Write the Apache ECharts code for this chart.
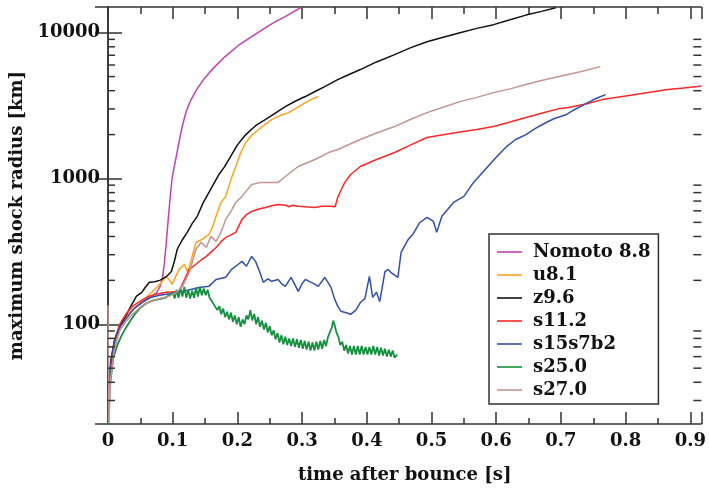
<!DOCTYPE html>
<html>
<head>
<meta charset="utf-8">
<script src="https://cdn.jsdelivr.net/npm/echarts@6/dist/echarts.min.js"></script>
<style>html,body{margin:0;padding:0;background:#fff;}#c{width:709px;height:489px;}</style>
</head>
<body>
<div id="c"></div>
<script>
const xMin = 0, xMax = 0.917;
const yMin = 20.7, yMax = 15000;
const xTicks = [0, 0.1, 0.2, 0.3, 0.4, 0.5, 0.6, 0.7, 0.8, 0.9];
const yLabels = [100, 1000, 10000];
const yMinorTicks = [30,40,50,60,70,80,90,200,300,400,500,600,700,800,900,2000,3000,4000,5000,6000,7000,8000,9000];
const seriesNames = ['Nomoto 8.8','u8.1','z9.6','s11.2','s15s7b2','s25.0','s27.0'];
const seriesColors = ['#c042b4','#ffa31a','#111111','#ff2626','#3150ae','#14903e','#c49490'];

const nomoto88 = [[0,24],[0.004,50],[0.01,75],[0.018,95],[0.028,112],[0.04,128],[0.054,142],[0.065,152],[0.075,165],[0.08,180],[0.084,205],[0.087,260],[0.09,360],[0.093,520],[0.0965,780],[0.099,1000],[0.102,1180],[0.106,1450],[0.110,1800],[0.115,2300],[0.121,2900],[0.128,3450],[0.136,4000],[0.148,4800],[0.161,5600],[0.18,6800],[0.202,8200],[0.222,9400],[0.243,10800],[0.26,12000],[0.274,12900],[0.29,14200],[0.299,14900]];
const u81 = [[0,25],[0.004,52],[0.01,76],[0.018,96],[0.028,112],[0.038,125],[0.05,140],[0.064,160],[0.075,178],[0.083,195],[0.09,213],[0.095,200],[0.0995,188],[0.105,215],[0.110,238],[0.118,258],[0.1225,230],[0.126,250],[0.130,292],[0.136,365],[0.1455,382],[0.156,413],[0.162,470],[0.167,550],[0.1745,685],[0.182,754],[0.19,985],[0.1975,1208],[0.205,1500],[0.213,1766],[0.223,2000],[0.233,2168],[0.243,2350],[0.253,2535],[0.266,2700],[0.279,2830],[0.292,3050],[0.305,3313],[0.315,3500],[0.325,3647]];
const z96 = [[0,25],[0.004,55],[0.01,78],[0.018,98],[0.028,115],[0.036,135],[0.044,156],[0.052,165],[0.058,180],[0.064,194],[0.072,196],[0.08,200],[0.09,212],[0.098,230],[0.103,275],[0.107,327],[0.115,380],[0.1225,427],[0.13,490],[0.138,550],[0.147,680],[0.156,802],[0.164,930],[0.1715,1065],[0.18,1200],[0.191,1450],[0.2,1700],[0.213,2000],[0.228,2300],[0.243,2535],[0.258,2800],[0.274,3112],[0.29,3400],[0.305,3647],[0.32,3950],[0.335,4270],[0.355,4762],[0.37,5100],[0.39,5585],[0.415,6300],[0.443,7070],[0.468,7900],[0.493,8670],[0.518,9300],[0.544,10000],[0.57,10700],[0.596,11350],[0.62,12200],[0.646,13200],[0.67,14000],[0.692,14800]];
const s112 = [[0,30],[0.004,52],[0.01,75],[0.018,100],[0.028,118],[0.038,133],[0.054,148],[0.064,156],[0.078,162],[0.09,166],[0.11,168],[0.117,197],[0.1255,238],[0.136,258],[0.145,278],[0.152,292],[0.16,315],[0.167,336],[0.175,370],[0.182,394],[0.19,410],[0.1975,427],[0.207,524],[0.215,570],[0.222,594],[0.232,615],[0.243,633],[0.253,650],[0.263,663],[0.275,655],[0.28,640],[0.285,655],[0.294,646],[0.305,640],[0.32,633],[0.33,645],[0.3445,646],[0.351,640],[0.355,741],[0.36,830],[0.366,940],[0.375,1065],[0.39,1208],[0.415,1350],[0.443,1507],[0.468,1700],[0.493,1910],[0.52,2000],[0.544,2085],[0.57,2170],[0.596,2270],[0.62,2430],[0.646,2620],[0.67,2800],[0.697,3013],[0.712,3063],[0.74,3250],[0.764,3475],[0.79,3620],[0.815,3760],[0.84,3920],[0.865,4074],[0.89,4180],[0.911,4270],[0.917,4300]];
const s15s7b2 = [[0,20],[0.002,40],[0.006,62],[0.012,82],[0.02,98],[0.03,112],[0.04,128],[0.054,143],[0.064,152],[0.08,158],[0.095,162],[0.12,170],[0.141,179],[0.156,182],[0.167,203],[0.182,210],[0.191,238],[0.2,255],[0.207,270],[0.214,250],[0.222,292],[0.228,270],[0.233,238],[0.24,194],[0.247,205],[0.253,197],[0.263,203],[0.268,190],[0.274,182],[0.283,210],[0.288,190],[0.294,168],[0.3,190],[0.305,203],[0.314,194],[0.32,188],[0.325,182],[0.335,210],[0.3445,180],[0.35,150],[0.355,133],[0.36,123],[0.368,120],[0.375,117],[0.383,125],[0.39,141],[0.397,150],[0.404,213],[0.409,153],[0.415,166],[0.42,143],[0.428,230],[0.433,238],[0.437,227],[0.448,210],[0.453,311],[0.464,382],[0.472,420],[0.482,499],[0.493,541],[0.503,507],[0.508,427],[0.516,550],[0.534,685],[0.55,754],[0.565,940],[0.585,1180],[0.6,1400],[0.616,1656],[0.63,1850],[0.646,2000],[0.66,2200],[0.677,2421],[0.69,2580],[0.7075,2734],[0.72,2950],[0.738,3250],[0.755,3550],[0.769,3760]];
const s250 = [[0,20],[0.003,38],[0.008,58],[0.014,71],[0.02,82],[0.026,92],[0.034,105],[0.042,118],[0.05,130],[0.06,140],[0.07,146],[0.08,149],[0.09,153],
[0.100,165],[0.103,150],[0.106,172],[0.109,152],[0.112,178],[0.115,155],[0.118,180],[0.121,152],[0.124,172],[0.127,150],[0.130,170],[0.133,152],[0.136,178],[0.139,155],[0.142,180],[0.145,158],[0.148,176],[0.151,158],[0.154,172],[0.157,152],[0.160,152],[0.163,138],[0.166,142],[0.169,125],[0.172,133],[0.175,117],[0.178,128],[0.181,112],[0.184,122],[0.187,108],[0.190,120],[0.193,104],[0.196,115],[0.199,100],[0.202,112],[0.205,96],[0.208,108],[0.211,100],[0.214,115],[0.217,108],[0.220,125],[0.223,106],[0.226,118],[0.229,100],[0.232,112],[0.235,96],[0.238,106],[0.241,92],[0.244,102],[0.247,88],[0.250,97],[0.253,84],[0.256,91],[0.259,79],[0.262,87],[0.265,75],[0.268,84],[0.271,73],[0.274,82],[0.277,72],[0.280,80],[0.283,71],[0.286,80],[0.289,70],[0.292,79],[0.295,69],[0.298,78],[0.301,68],[0.304,77],[0.307,67],[0.310,76],[0.313,66],[0.316,75],[0.319,66],[0.322,76],[0.325,67],[0.328,77],[0.331,68],[0.334,78],[0.337,71],[0.340,82],[0.343,80],[0.346,95],[0.348,106],[0.350,100],[0.353,88],[0.356,82],[0.359,72],[0.362,76],[0.365,66],[0.368,72],[0.371,63],[0.374,71],[0.377,62],[0.380,71],[0.383,62],[0.386,71],[0.389,62],[0.392,71],[0.395,62],[0.398,70],[0.401,62],[0.404,70],[0.407,62],[0.410,71],[0.413,62],[0.416,70],[0.419,61],[0.422,69],[0.425,61],[0.428,68],[0.431,60],[0.434,67],[0.437,60],[0.440,66],[0.443,59],[0.447,62]];
const s270 = [[0,135],[0.0015,21],[0.004,42],[0.01,68],[0.018,90],[0.028,105],[0.04,120],[0.054,135],[0.064,142],[0.08,150],[0.095,156],[0.106,166],[0.115,182],[0.1255,227],[0.136,327],[0.144,365],[0.152,336],[0.159,401],[0.167,370],[0.1745,427],[0.182,524],[0.19,594],[0.1975,685],[0.207,754],[0.222,910],[0.237,940],[0.263,940],[0.274,1032],[0.294,1208],[0.32,1349],[0.34,1500],[0.355,1580],[0.39,1849],[0.415,2050],[0.443,2270],[0.468,2550],[0.493,2830],[0.52,3100],[0.544,3365],[0.57,3600],[0.596,3880],[0.62,4100],[0.646,4406],[0.67,4700],[0.697,5000],[0.73,5400],[0.761,5848]];

const seriesData = [nomoto88, u81, z96, s112, s15s7b2, s250, s270];
const FONT = 'DejaVu Serif';
const AX = '#333';

const chart = echarts.init(document.getElementById('c'), null, {renderer: 'canvas'});

const lineSeries = seriesNames.map((n, i) => ({
  name: n,
  type: 'line',
  data: seriesData[i],
  showSymbol: false,
  symbol: 'none',
  lineStyle: {color: seriesColors[i], width: n === 's25.0' ? 1.8 : 1.5},
  itemStyle: {color: seriesColors[i]},
  z: 3,
  animation: false
}));

const minorTickSeries = {
  type: 'custom',
  silent: true,
  z: 5,
  data: yMinorTicks.map(v => [xMin, v]),
  renderItem: function (params, api) {
    const p = api.coord([xMin, api.value(1)]);
    const cs = params.coordSys;
    return {
      type: 'group',
      children: [
        {type: 'line', shape: {x1: cs.x, y1: p[1], x2: cs.x + 7, y2: p[1]}, style: {stroke: AX, lineWidth: 1.5}},
        {type: 'line', shape: {x1: cs.x + cs.width, y1: p[1], x2: cs.x + cs.width - 8, y2: p[1]}, style: {stroke: AX, lineWidth: 1.5}}
      ]
    };
  },
  animation: false
};

const axisLineStyle = {show: true, lineStyle: {color: AX, width: 1.5}};

chart.setOption({
  animation: false,
  backgroundColor: '#fff',
  grid: {left: 108, right: 5, top: 7, bottom: 64},
  legend: {
    data: seriesNames,
    icon: 'rect',
    orient: 'vertical',
    left: 489,
    top: 234,
    padding: [8, 8, 4, 8],
    itemGap: 3,
    itemWidth: 25,
    itemHeight: 1.6,
    borderColor: AX,
    borderWidth: 1.5,
    backgroundColor: '#fff',
    textStyle: {fontFamily: FONT, fontWeight: 'bold', fontSize: 18, color: '#111', lineHeight: 20, padding: [0, 0, 0, 6]},
    z: 10
  },
  xAxis: [{
    type: 'value', min: xMin, max: xMax, interval: 0.1,
    position: 'bottom',
    name: 'time after bounce [s]', nameLocation: 'middle', nameGap: 42,
    nameTextStyle: {fontFamily: FONT, fontWeight: 'bold', fontSize: 18, color: '#111'},
    axisLine: axisLineStyle,
    axisTick: {show: true, inside: true, length: 12, lineStyle: {color: AX, width: 1.5}},
    minorTick: {show: true, splitNumber: 2, length: 6, lineStyle: {color: AX, width: 1.5}},
    splitLine: {show: false},
    axisLabel: {fontFamily: FONT, fontWeight: 'bold', fontSize: 18, color: '#111', margin: 8, showMaxLabel: false,
      formatter: v => String(Math.round(v * 10) / 10)}
  }, {
    type: 'value', min: xMin, max: xMax, interval: 0.1,
    position: 'top',
    axisLine: axisLineStyle,
    axisTick: {show: true, inside: true, length: 12, lineStyle: {color: AX, width: 1.5}},
    minorTick: {show: true, splitNumber: 2, length: 7, lineStyle: {color: AX, width: 1.5}},
    splitLine: {show: false},
    axisLabel: {show: false}
  }],
  yAxis: [{
    type: 'log', logBase: 10, min: yMin, max: yMax,
    position: 'left',
    name: 'maximum shock radius [km]', nameLocation: 'middle', nameGap: 62,
    nameTextStyle: {fontFamily: FONT, fontWeight: 'bold', fontSize: 18, color: '#111'},
    axisLine: axisLineStyle,
    axisTick: {show: true, inside: true, length: 14, lineStyle: {color: AX, width: 1.5}},
    splitLine: {show: false},
    axisLabel: {fontFamily: FONT, fontWeight: 'bold', fontSize: 18, color: '#111', margin: 8,
      showMinLabel: false, showMaxLabel: false,
      formatter: v => {
        const r = Math.round(v);
        return yLabels.indexOf(r) >= 0 ? String(r) : '';
      }}
  }, {
    type: 'log', logBase: 10, min: yMin, max: yMax,
    position: 'right',
    axisLine: axisLineStyle,
    axisTick: {show: true, inside: true, length: 13, lineStyle: {color: AX, width: 1.5}},
    splitLine: {show: false},
    axisLabel: {show: false}
  }],
  series: lineSeries.concat([minorTickSeries])
});
</script>
</body>
</html>
